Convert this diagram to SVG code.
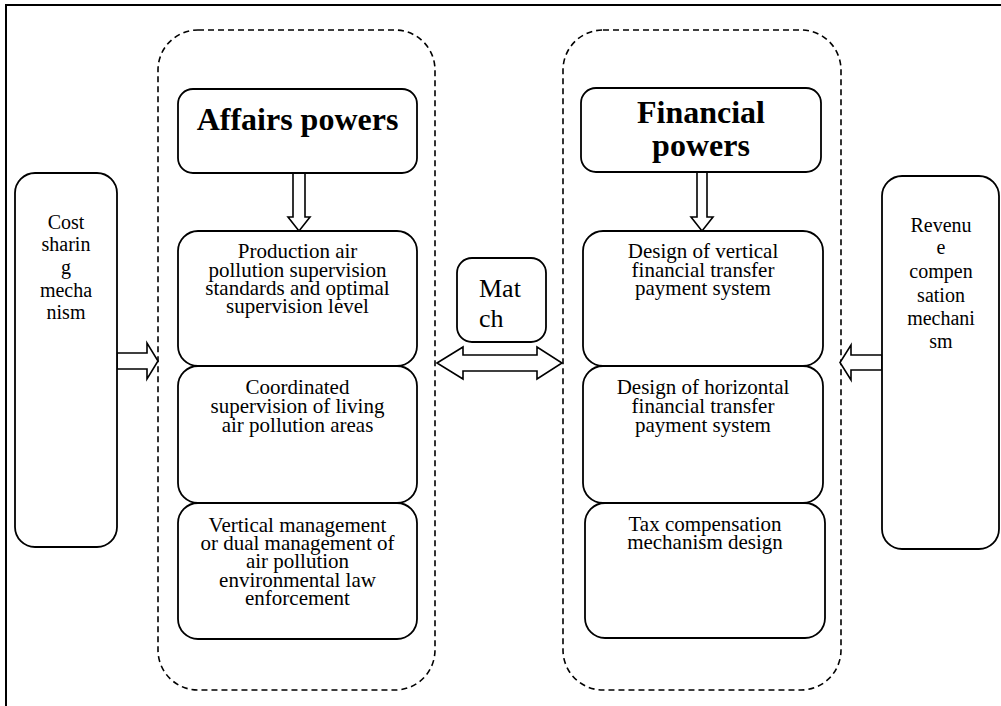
<svg xmlns="http://www.w3.org/2000/svg" width="1001" height="706" viewBox="0 0 1001 706">
<style>
.box{fill:#fff;stroke:#000;stroke-width:1.8}
.dash{fill:none;stroke:#000;stroke-width:1.6;stroke-dasharray:6 4}
.arr{fill:#fff;stroke:#000;stroke-width:1.6;stroke-linejoin:miter}
.t{font-family:"Liberation Serif","Times New Roman",serif;font-size:21px;fill:#000;text-anchor:middle}
.s{font-family:"Liberation Serif","Times New Roman",serif;font-size:20px;fill:#000;text-anchor:middle}
.h{font-family:"Liberation Serif","Times New Roman",serif;font-size:32px;font-weight:bold;fill:#000;text-anchor:middle}
.m{font-family:"Liberation Serif","Times New Roman",serif;font-size:26px;fill:#000}
</style>
<rect width="1001" height="706" fill="#fff"/>
<path d="M6,706 V5 H1001" fill="none" stroke="#000" stroke-width="2"/>
<g id="containers">
<rect class="dash" x="158" y="30" width="277" height="660" rx="40"/>
<rect class="dash" x="563" y="30" width="278" height="660" rx="40"/>
</g>
<g id="connectors">
<polygon class="arr" points="293,173 305,173 305,217 310,217 299,231 288,217 293,217"/>
<polygon class="arr" points="697,172 707,172 707,217 713,217 702,231 691,217 697,217"/>
<polygon class="arr" points="117,353 147,353 147,343 158,361 147,379 147,369 117,369"/>
<polygon class="arr" points="882,355 851,355 851,345 840,362.5 851,380 851,370 882,370"/>
<polygon class="arr" points="437,363 463,347 463,355 537,355 537,347 562,363 537,379 537,371 463,371 463,379"/>
</g>
<g id="affairs">
<rect class="box" x="178" y="89" width="239" height="84" rx="15"/>
<text class="h" x="297.5" y="130">Affairs powers</text>
</g>
<g id="production">
<rect class="box" x="178" y="231" width="239" height="135" rx="20"/>
<text class="t" x="297.5" y="258">Production air</text>
<text class="t" x="297.5" y="277">pollution supervision</text>
<text class="t" x="297.5" y="295">standards and optimal</text>
<text class="t" x="297.5" y="313">supervision level</text>
</g>
<g id="coordinated">
<rect class="box" x="178" y="366" width="239" height="137" rx="20"/>
<text class="t" x="297.5" y="394">Coordinated</text>
<text class="t" x="297.5" y="413">supervision of living</text>
<text class="t" x="297.5" y="432">air pollution areas</text>
</g>
<g id="vertical-management">
<rect class="box" x="178" y="503" width="239" height="136" rx="20"/>
<text class="t" x="297.5" y="532">Vertical management</text>
<text class="t" x="297.5" y="550">or dual management of</text>
<text class="t" x="297.5" y="568">air pollution</text>
<text class="t" x="297.5" y="587">environmental law</text>
<text class="t" x="297.5" y="605">enforcement</text>
</g>
<g id="financial">
<rect class="box" x="581" y="88" width="240" height="84" rx="15"/>
<text class="h" x="701" y="123">Financial</text>
<text class="h" x="701" y="156">powers</text>
</g>
<g id="vertical-transfer">
<rect class="box" x="583" y="231" width="240" height="135" rx="20"/>
<text class="t" x="703" y="258">Design of vertical</text>
<text class="t" x="703" y="277">financial transfer</text>
<text class="t" x="703" y="295">payment system</text>
</g>
<g id="horizontal-transfer">
<rect class="box" x="583" y="366" width="240" height="137" rx="20"/>
<text class="t" x="703" y="394">Design of horizontal</text>
<text class="t" x="703" y="413">financial transfer</text>
<text class="t" x="703" y="432">payment system</text>
</g>
<g id="tax">
<rect class="box" x="585" y="503" width="240" height="135" rx="20"/>
<text class="t" x="705" y="531">Tax compensation</text>
<text class="t" x="705" y="549">mechanism design</text>
</g>
<g id="cost-sharing">
<rect class="box" x="15" y="173" width="102" height="374" rx="20"/>
<text class="s" x="66" y="229">Cost</text>
<text class="s" x="66" y="251">sharin</text>
<text class="s" x="66" y="274">g</text>
<text class="s" x="66" y="297">mecha</text>
<text class="s" x="66" y="319">nism</text>
</g>
<g id="revenue">
<rect class="box" x="882" y="176" width="117" height="373" rx="20"/>
<text class="s" x="941" y="232">Revenu</text>
<text class="s" x="941" y="254">e</text>
<text class="s" x="941" y="278">compen</text>
<text class="s" x="941" y="302">sation</text>
<text class="s" x="941" y="325">mechani</text>
<text class="s" x="941" y="348">sm</text>
</g>
<g id="match">
<rect class="box" x="457" y="258" width="89" height="84" rx="15"/>
<text class="m" x="479" y="297">Mat</text>
<text class="m" x="479" y="327">ch</text>
</g>
</svg>
